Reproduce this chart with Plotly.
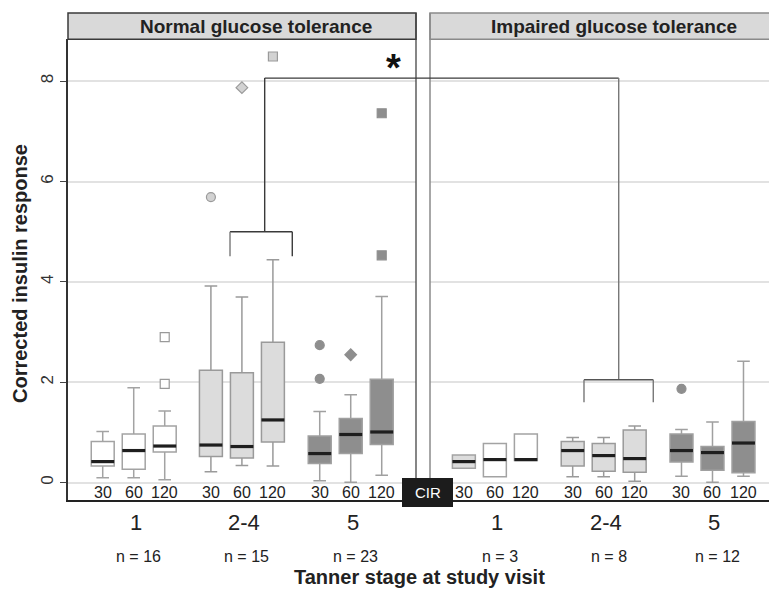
import plotly.graph_objects as go

# ---- data -------------------------------------------------------------
stages = ["1", "2-4", "5"]
times = ["30", "60", "120"]
n_ngt = [16, 15, 23]
n_igt = [3, 8, 12]

# Normal glucose tolerance: per stage, per time -> (lowerfence, q1, median, q3, upperfence)
ngt_lf = [[0.10, 0.10, 0.06], [0.22, 0.34, 0.33], [0.04, 0.01, 0.15]]
ngt_q1 = [[0.33, 0.27, 0.61], [0.52, 0.49, 0.81], [0.38, 0.58, 0.76]]
ngt_med = [[0.42, 0.64, 0.73], [0.75, 0.72, 1.25], [0.58, 0.96, 1.01]]
ngt_q3 = [[0.82, 0.97, 1.13], [2.24, 2.19, 2.80], [0.93, 1.28, 2.06]]
ngt_uf = [[1.02, 1.89, 1.43], [3.92, 3.70, 4.44], [1.42, 1.75, 3.71]]
ngt_out = [[[], [], [1.97, 2.90]], [[5.69], [7.87], [8.49]], [[2.07, 2.74], [2.55], [4.53, 7.36]]]

# Impaired glucose tolerance
igt_lf = [[0.29, 0.12, 0.44], [0.12, 0.12, 0.03], [0.13, 0.01, 0.13]]
igt_q1 = [[0.29, 0.12, 0.44], [0.33, 0.23, 0.21], [0.41, 0.25, 0.20]]
igt_med = [[0.42, 0.46, 0.46], [0.64, 0.54, 0.48], [0.64, 0.60, 0.79]]
igt_q3 = [[0.55, 0.78, 0.97], [0.82, 0.78, 1.05], [0.97, 0.72, 1.22]]
igt_uf = [[0.55, 0.78, 0.97], [0.90, 0.90, 1.13], [1.06, 1.21, 2.42]]
igt_out = [[[], [], []], [[], [], []], [[1.87], [], []]]

# ---- layout helpers ---------------------------------------------------
ngt_centers = [2.12, 5.61, 9.12]
igt_centers = [13.77, 17.28, 20.79]
offsets = [-1, 0, 1]
BOX_W = 0.74
X_MAX = 22.613
Y_MIN, Y_MAX = -0.345, 8.833
GAP = (11.226, 11.677)
DOM_TOP = 0.946

stage_fill = ["#ffffff", "#dcdcdc", "#8e8e8e"]
stage_line = ["#a3a3a3", "#9a9a9a", "#a0a0a0"]
stage_mfill = ["#ffffff", "#d2d2d2", "#8e8e8e"]
stage_mline = ["#9a9a9a", "#9a9a9a", "#8e8e8e"]
time_symbol = ["circle", "diamond", "square"]

FONT = "Liberation Sans, Arial, sans-serif"

fig = go.Figure()


def add_panel(centers, lf, q1, med, q3, uf, outs, fills):
    for s in range(3):
        for t in range(3):
            x = centers[s] + offsets[t]
            fig.add_trace(go.Box(
                x=[x], q1=[q1[s][t]], median=[med[s][t]], q3=[q3[s][t]],
                lowerfence=[lf[s][t]], upperfence=[uf[s][t]],
                width=BOX_W, whiskerwidth=0.55,
                fillcolor=fills[s][t], line=dict(color=stage_line[s], width=1.5),
                boxpoints=False, hoverinfo="skip", showlegend=False,
            ))
            fig.add_trace(go.Scatter(
                x=[x - BOX_W / 2, x + BOX_W / 2], y=[med[s][t], med[s][t]],
                mode="lines", line=dict(color="#1e1e1e", width=3.2),
                hoverinfo="skip", showlegend=False,
            ))
            if outs[s][t]:
                fig.add_trace(go.Scatter(
                    x=[x] * len(outs[s][t]), y=outs[s][t], mode="markers",
                    marker=dict(symbol=time_symbol[t], size=9,
                                color=stage_mfill[s],
                                line=dict(color=stage_mline[s], width=1.2)),
                    hoverinfo="skip", showlegend=False, cliponaxis=False,
                ))


ngt_fills = [[stage_fill[s]] * 3 for s in range(3)]
igt_fills = [["#dcdcdc", "#ffffff", "#ffffff"], [stage_fill[1]] * 3, [stage_fill[2]] * 3]
add_panel(ngt_centers, ngt_lf, ngt_q1, ngt_med, ngt_q3, ngt_uf, ngt_out, ngt_fills)
add_panel(igt_centers, igt_lf, igt_q1, igt_med, igt_q3, igt_uf, igt_out, igt_fills)

shapes = []
annotations = []


def label(text, x, y, xref, yref, size, color="#222222", **kw):
    annotations.append(dict(x=x, y=y, xref=xref, yref=yref, text=text,
                            showarrow=False, xanchor="center", yanchor="middle",
                            font=dict(family=FONT, size=size, color=color), **kw))


# blank strip between the two panels (covers gridlines)
shapes.append(dict(type="rect", xref="x", yref="y", x0=GAP[0], x1=GAP[1],
                   y0=Y_MIN, y1=Y_MAX, fillcolor="white", line=dict(width=0),
                   layer="between"))

# panel headers
gx0 = 348 / 701
gx1 = 362 / 701
shapes.append(dict(type="rect", xref="paper", yref="paper", x0=0, x1=gx0,
                   y0=DOM_TOP, y1=1.0, fillcolor="#d9d9d9",
                   line=dict(color="#3a3a3a", width=1.5), layer="above"))
shapes.append(dict(type="rect", xref="paper", yref="paper", x0=gx1, x1=1.03,
                   y0=DOM_TOP, y1=1.0, fillcolor="#d9d9d9",
                   line=dict(color="#8a8a8a", width=1.5), layer="above"))

# panel borders between the two panels
cir_top = 22 / 487
shapes.append(dict(type="line", xref="paper", yref="paper", x0=gx0, x1=gx0,
                   y0=cir_top, y1=1.0, line=dict(color="#444444", width=1.3), layer="above"))
shapes.append(dict(type="line", xref="paper", yref="paper", x0=gx1, x1=gx1,
                   y0=cir_top, y1=1.0, line=dict(color="#8a8a8a", width=1.5), layer="above"))


# significance brackets
def seg(x0, y0, x1, y1, color, w=1.4):
    shapes.append(dict(type="line", xref="x", yref="y", x0=x0, y0=y0, x1=x1, y1=y1,
                       line=dict(color=color, width=w), layer="above"))


seg(5.226, 5.0, 7.235, 5.0, "#3a3a3a")
seg(5.226, 5.0, 5.226, 4.51, "#777777")
seg(7.235, 5.0, 7.235, 4.51, "#3a3a3a")
seg(6.345, 5.0, 6.345, 8.06, "#3a3a3a")
seg(6.345, 8.06, 17.765, 8.06, "#3a3a3a")
seg(17.765, 8.06, 17.765, 2.05, "#777777")
seg(16.645, 2.05, 18.88, 2.05, "#555555")
seg(16.645, 2.05, 16.645, 1.60, "#777777")
seg(18.88, 2.05, 18.88, 1.60, "#777777")

label("<b>*</b>", 10.50, 8.26, "x", "y", 38, color="#111111")

# CIR label box
shapes.append(dict(type="rect", xref="paper", yref="paper",
                   x0=334 / 701, x1=385 / 701, y0=-7 / 487, y1=cir_top,
                   fillcolor="#1c1c1c", line=dict(width=0), layer="above"))
label("CIR", 359.5 / 701, 7.5 / 487, "paper", "paper", 15, color="white")

# header titles
label("<b>Normal glucose tolerance</b>", 6.08, (DOM_TOP + 1) / 2, "x", "paper", 19)
label("<b>Impaired glucose tolerance</b>", 17.62, (DOM_TOP + 1) / 2, "x", "paper", 19)

# time labels, stage labels and sample sizes
for centers, ns in ((ngt_centers, n_ngt), (igt_centers, n_igt)):
    for s in range(3):
        for t in range(3):
            label(times[t], centers[s] + offsets[t], -0.205, "x", "y", 16)
        label(stages[s], centers[s], -22.7 / 487, "x", "paper", 22, xshift=2)
        label("n = %d" % ns[s], centers[s], -56 / 487, "x", "paper", 16, xshift=5)

label("<b>Tanner stage at study visit</b>", 0.501, -77 / 487, "paper", "paper", 20)
label("<b>Corrected insulin response</b>", -48 / 701, 226 / 487, "paper", "paper", 20,
      textangle=-90)

fig.update_layout(
    width=769, height=589,
    margin=dict(l=68, r=0, t=13, b=89),
    paper_bgcolor="white", plot_bgcolor="white",
    showlegend=False,
    font=dict(family=FONT),
    xaxis=dict(range=[0, X_MAX], domain=[0, 1], showgrid=False, zeroline=False,
               showticklabels=False, ticks="", showline=True,
               linecolor="#222222", linewidth=1.5, fixedrange=True),
    yaxis=dict(range=[Y_MIN, Y_MAX], domain=[0, DOM_TOP], tickvals=[0, 2, 4, 6, 8],
               tickangle=-90, ticks="outside", ticklen=6, tickwidth=1.2,
               tickcolor="#444444", showline=True, linecolor="#333333", linewidth=2,
               showgrid=True, gridcolor="#e2e2e2", gridwidth=1.5, zeroline=False,
               tickfont=dict(family=FONT, size=17, color="#333333"), fixedrange=True),
    shapes=shapes,
    annotations=annotations,
)

fig.write_html("out.html")
